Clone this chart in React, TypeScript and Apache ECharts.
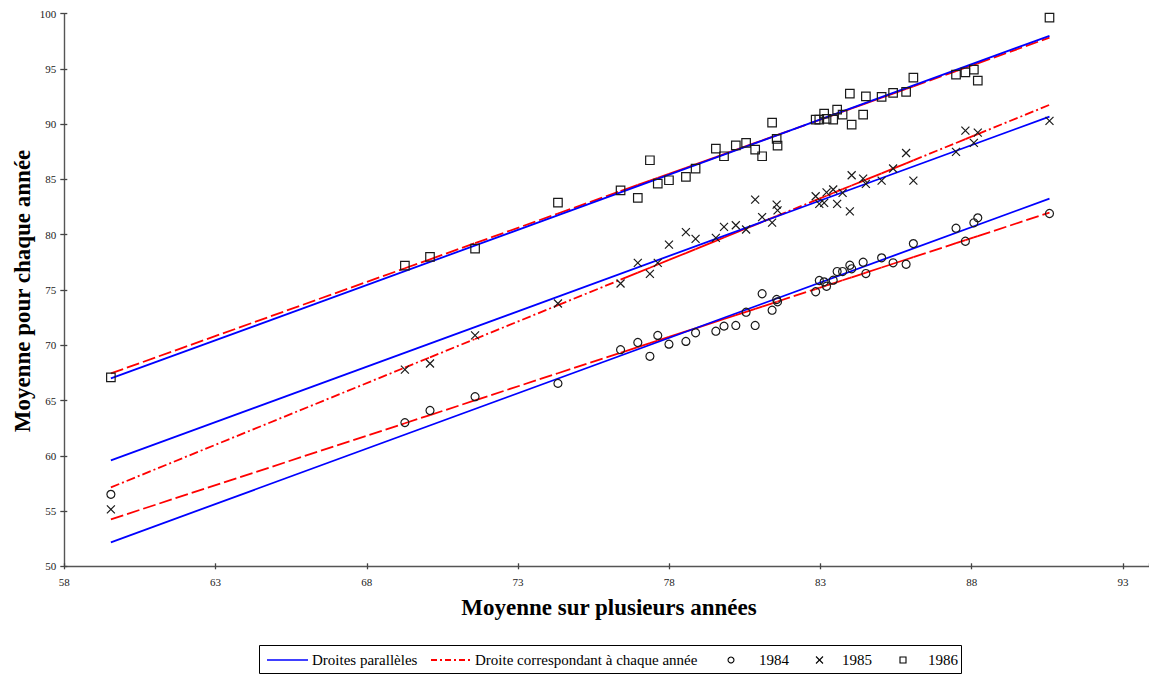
import React, { useEffect, useRef } from "react";
import * as echarts from "echarts";

// Multi-year average (x) of each observation
const xs = [
  59.54, 69.26, 70.09, 71.58, 74.32, 76.39, 76.96, 77.36, 77.62, 77.99, 78.55,
  78.87, 79.54, 79.81, 80.2, 80.54, 80.84, 81.07, 81.4, 81.55, 81.58, 82.84,
  82.96, 83.12, 83.2, 83.42, 83.55, 83.73, 83.97, 84.03, 84.41, 84.5, 85.02,
  85.4, 85.83, 86.07, 87.48, 87.79, 88.07, 88.2, 90.57,
];
// Yearly values
const y1984 = [
  56.51, 63.0, 64.1, 65.35, 66.55, 69.6, 70.25, 69.0, 70.89, 70.1, 70.35,
  71.13, 71.27, 71.73, 71.79, 72.99, 71.79, 74.66, 73.17, 74.14, 73.93, 74.84,
  75.86, 75.74, 75.34, 75.89, 76.67, 76.67, 77.24, 76.92, 77.51, 76.49, 77.91,
  77.46, 77.33, 79.2, 80.59, 79.41, 81.08, 81.53, 81.92,
];
const y1985 = [
  55.15, 67.8, 68.35, 70.9, 73.78, 75.59, 77.46, 76.46, 77.46, 79.11, 80.23,
  79.63, 79.72, 80.71, 80.86, 80.47, 83.18, 81.6, 81.1, 82.73, 82.2, 83.48,
  82.79, 82.88, 83.84, 84.09, 82.79, 83.79, 82.12, 85.38, 85.08, 84.6, 84.9,
  85.99, 87.4, 84.9, 87.5, 89.42, 88.31, 89.24, 90.3,
];
const y1986 = [
  67.09, 77.2, 78.0, 78.75, 82.9, 84.02, 83.34, 86.74, 84.63, 84.93, 85.24,
  85.99, 87.79, 87.1, 88.09, 88.31, 87.7, 87.1, 90.14, 88.67, 88.07, 90.42,
  90.42, 90.96, 90.48, 90.42, 91.32, 90.87, 92.77, 89.96, 90.87, 92.52, 92.47,
  92.83, 92.92, 94.21, 94.48, 94.69, 94.94, 93.94, 99.64,
];
// Fitted lines: value at first x and at last x
const parallel1984 = [52.17, 83.27];
const parallel1985 = [59.58, 90.69];
const parallel1986 = [67.0, 98.0];
const own1984 = [54.25, 82.0];
const own1985 = [57.14, 91.75];
const own1986 = [67.45, 97.83];

const xTicksMin = 58;
const xTicksMax = 93.86;
const yMin = 50;
const yMax = 100;

const SERIF = "'Liberation Serif', 'Times New Roman', serif";

function fitAt(ends: number[], x: number) {
  const x0 = xs[0];
  const x1 = xs[xs.length - 1];
  return ends[0] + ((ends[1] - ends[0]) * (x - x0)) / (x1 - x0);
}

// one segment per pair of neighbouring observations (dash restarts on each)
function segments(ends: number[]) {
  const out: any[] = [];
  for (let i = 0; i < xs.length - 1; i++) {
    const short = xs[i + 1] - xs[i] < 0.75;
    const item: any = {
      coords: [
        [xs[i], fitAt(ends, xs[i])],
        [xs[i + 1], fitAt(ends, xs[i + 1])],
      ],
    };
    if (short) item.lineStyle = { type: "solid" };
    out.push(item);
  }
  return out;
}

const crossPath = "path://M0,0L10,10M10,0L0,10";

export default function App() {
  const ref = useRef<HTMLDivElement>(null);
  useEffect(() => {
    if (!ref.current) return;
    const chart = echarts.init(ref.current, undefined, { renderer: "svg" });
    const axisCommon = {
      type: "value",
      splitLine: { show: false },
    };
    const redLine = (ends: number[], dash: number[]) => ({
      type: "lines",
      coordinateSystem: "cartesian2d",
      xAxisIndex: 0,
      yAxisIndex: 0,
      z: 2,
      silent: true,
      lineStyle: { color: "#ff0000", width: 1.8, type: dash, opacity: 1, cap: "butt" },
      data: segments(ends),
    });
    const blueLine = (ends: number[]) => ({
      type: "line",
      xAxisIndex: 0,
      yAxisIndex: 0,
      z: 3,
      silent: true,
      showSymbol: false,
      symbol: "none",
      lineStyle: { color: "#0000ff", width: 1.8 },
      data: [
        [xs[0], ends[0]],
        [xs[xs.length - 1], ends[1]],
      ],
    });
    const marker = (data: number[], symbol: string, size: number) => ({
      type: "scatter",
      xAxisIndex: 0,
      yAxisIndex: 0,
      z: 5,
      symbol,
      symbolSize: size,
      itemStyle: {
        color: "rgba(0,0,0,0)",
        borderColor: "#1a1a1a",
        borderWidth: 1.2,
        opacity: 1,
      },
      data: xs.map((x, i) => [x, data[i]]),
    });

    const legendY = 660;
    const textStyle = (x: number, t: string) => ({
      type: "text",
      x,
      y: legendY,
      style: {
        text: t,
        font: `15px ${SERIF}`,
        fill: "#000",
        textVerticalAlign: "middle",
        verticalAlign: "middle",
      },
    });

    chart.setOption({
      animation: false,
      backgroundColor: "#ffffff",
      grid: { left: 64.3, right: 0, top: 13.7, bottom: 110.7, containLabel: false },
      xAxis: [
        {
          ...axisCommon,
          min: xTicksMin,
          max: xTicksMax,
          interval: 5,
          position: "bottom",
          axisLine: { onZero: false, lineStyle: { color: "#555", width: 1.4 } },
          axisTick: { length: 3, lineStyle: { color: "#444", width: 1.3 } },
          axisLabel: {
            showMaxLabel: false,
            margin: 10,
            color: "#222",
            fontFamily: SERIF,
            fontSize: 11,
            formatter: (v: number) =>
              Math.abs(v - Math.round(v)) < 1e-6 && v < 93.5 ? String(v) : "",
          },
        },
        {
          ...axisCommon,
          min: xTicksMin,
          max: xTicksMax,
          interval: 5,
          position: "bottom",
          axisLine: { show: false, onZero: false },
          axisTick: { inside: true, length: 3, lineStyle: { color: "#444", width: 1.3 } },
          axisLabel: { show: false },
        },
      ],
      yAxis: [
        {
          ...axisCommon,
          min: yMin,
          max: yMax,
          interval: 5,
          position: "left",
          axisLine: { show: true, onZero: false, lineStyle: { color: "#555", width: 1.4 } },
          axisTick: { show: true, length: 4, lineStyle: { color: "#444", width: 1.3 } },
          axisLabel: { margin: 8, color: "#222", fontFamily: SERIF, fontSize: 11 },
        },
        {
          ...axisCommon,
          min: yMin,
          max: yMax,
          interval: 5,
          position: "left",
          axisLine: { show: false, onZero: false },
          axisTick: { show: true, inside: true, length: 3, lineStyle: { color: "#444", width: 1.3 } },
          axisLabel: { show: false },
        },
      ],
      series: [
        redLine(own1984, [13, 4]),
        redLine(own1985, [9, 3, 2, 3]),
        redLine(own1986, [13, 4]),
        blueLine(parallel1984),
        blueLine(parallel1985),
        blueLine(parallel1986),
        marker(y1984, "circle", 8),
        marker(y1985, crossPath, 8),
        marker(y1986, "rect", 8.5),
      ],
      graphic: [
        {
          type: "text",
          x: 22,
          y: 291,
          rotation: Math.PI / 2,
          style: {
            text: "Moyenne pour chaque année",
            font: `bold 23px ${SERIF}`,
            fill: "#000",
            align: "center",
            verticalAlign: "middle",
          },
        },
        {
          type: "text",
          x: 609,
          y: 607,
          style: {
            text: "Moyenne sur plusieurs années",
            font: `bold 23px ${SERIF}`,
            fill: "#000",
            align: "center",
            verticalAlign: "middle",
          },
        },
        {
          type: "rect",
          shape: { x: 259.5, y: 645.5, width: 702, height: 28 },
          style: { fill: "#fff", stroke: "#000", lineWidth: 1 },
        },
        {
          type: "line",
          shape: { x1: 267, y1: legendY, x2: 308, y2: legendY },
          style: { stroke: "#0000ff", lineWidth: 1.5 },
        },
        textStyle(312, "Droites parallèles"),
        {
          type: "line",
          shape: { x1: 431, y1: legendY, x2: 470, y2: legendY },
          style: { stroke: "#ff0000", lineWidth: 2, lineDash: [6, 3, 2, 3] },
        },
        textStyle(475, "Droite correspondant à chaque année"),
        {
          type: "circle",
          shape: { cx: 731, cy: legendY, r: 3 },
          style: { fill: "none", stroke: "#000", lineWidth: 1.1 },
        },
        textStyle(759, "1984"),
        {
          type: "line",
          shape: { x1: 816, y1: legendY - 3.5, x2: 823, y2: legendY + 3.5 },
          style: { stroke: "#000", lineWidth: 1.1 },
        },
        {
          type: "line",
          shape: { x1: 823, y1: legendY - 3.5, x2: 816, y2: legendY + 3.5 },
          style: { stroke: "#000", lineWidth: 1.1 },
        },
        textStyle(842, "1985"),
        {
          type: "rect",
          shape: { x: 900, y: legendY - 3, width: 6, height: 6 },
          style: { fill: "none", stroke: "#000", lineWidth: 1.1 },
        },
        textStyle(928, "1986"),
      ],
    });
    return () => chart.dispose();
  }, []);
  return (
    <div
      ref={ref}
      style={{ position: "absolute", left: 0, top: 0, width: 1149, height: 677, background: "#fff" }}
    />
  );
}
